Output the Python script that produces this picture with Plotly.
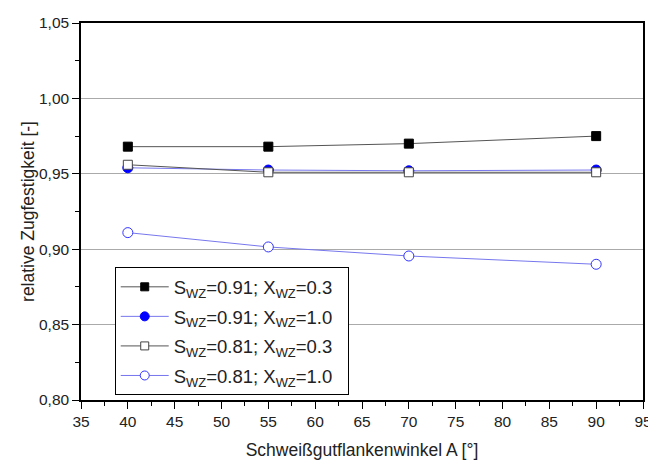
import plotly.graph_objects as go

angles = [40, 55, 70, 90]
s091_x03 = [0.968, 0.968, 0.970, 0.975]
s091_x10 = [0.954, 0.9525, 0.952, 0.9525]
s081_x03 = [0.956, 0.951, 0.951, 0.951]
s081_x10 = [0.911, 0.9015, 0.8955, 0.890]

names = [
    "S<sub>WZ</sub>=0.91; X<sub>WZ</sub>=0.3",
    "S<sub>WZ</sub>=0.91; X<sub>WZ</sub>=1.0",
    "S<sub>WZ</sub>=0.81; X<sub>WZ</sub>=0.3",
    "S<sub>WZ</sub>=0.81; X<sub>WZ</sub>=1.0",
]
series = [s091_x03, s091_x10, s081_x03, s081_x10]
styles = [
    dict(lc="#555555", sym="square", fill="black", edge="black", size=9, lsize=8),
    dict(lc="#7777ee", sym="circle", fill="#0000ff", edge="#0000ff", size=10, lsize=9),
    dict(lc="#555555", sym="square", fill="white", edge="#444444", size=9, lsize=8),
    dict(lc="#7777ee", sym="circle", fill="white", edge="#3333ff", size=10, lsize=9),
]

fig = go.Figure()
for vals, st in zip(series, styles):
    fig.add_trace(go.Scatter(x=angles, y=vals, mode="lines+markers", showlegend=False,
                             line=dict(color=st["lc"], width=1),
                             marker=dict(symbol=st["sym"], size=st["size"], color=st["fill"],
                                         line=dict(color=st["edge"], width=1))))
for i, (name, st) in enumerate(zip(names, styles)):
    fig.add_trace(go.Scatter(x=[None], y=[None], mode="lines+markers", name=name + "&nbsp;&nbsp;",
                             legendgroup=f"g{i}",
                             line=dict(color=st["lc"], width=1),
                             marker=dict(symbol=st["sym"], size=st["lsize"], color=st["fill"],
                                         line=dict(color=st["edge"], width=1))))

axis_font = dict(family="Liberation Sans, Arial, sans-serif", size=15.5, color="#222222")
# page body has an 8px margin, so the figure is shifted by 8px; sizes compensate
fig.update_layout(
    width=648, height=454,
    margin=dict(l=73, r=13, t=15, b=62, autoexpand=False),
    paper_bgcolor="white", plot_bgcolor="white",
    separators=", ",
    font=dict(family="Liberation Sans, Arial, sans-serif", color="#222222"),
    legend=dict(
        x=0.06, y=0.352, xanchor="left", yanchor="top",
        bordercolor="black", borderwidth=1, bgcolor="white",
        font=dict(size=18.5, color="#222222"),
        itemwidth=48, tracegroupgap=2.5,
    ),
    xaxis=dict(
        range=[35, 95], tickvals=list(range(35, 96, 5)),
        ticks="outside", ticklen=7, tickwidth=1, tickcolor="black",
        minor=dict(ticks="outside", ticklen=4, dtick=2.5, tickcolor="black"),
        showline=True, linecolor="black", linewidth=1.5, mirror=True,
        showgrid=False, zeroline=False, tickfont=axis_font, automargin=False,
        title=dict(text="Schweißgutflankenwinkel A [°]", font=dict(size=17.5), standoff=14),
    ),
    yaxis=dict(
        range=[0.80, 1.05], tickvals=[0.80, 0.85, 0.90, 0.95, 1.00, 1.05],
        tickformat=".2f",
        ticks="outside", ticklen=7, tickwidth=1, tickcolor="black",
        minor=dict(ticks="outside", ticklen=4, dtick=0.025, tickcolor="black", showgrid=False),
        showline=True, linecolor="black", linewidth=1.5, mirror=True,
        showgrid=True, gridcolor="#aaaaaa", gridwidth=1, zeroline=False, tickfont=axis_font, automargin=False,
        title=dict(text="relative Zugfestigkeit [-]", font=dict(size=17.5), standoff=0),
    ),
)
fig.write_html("out.html")
